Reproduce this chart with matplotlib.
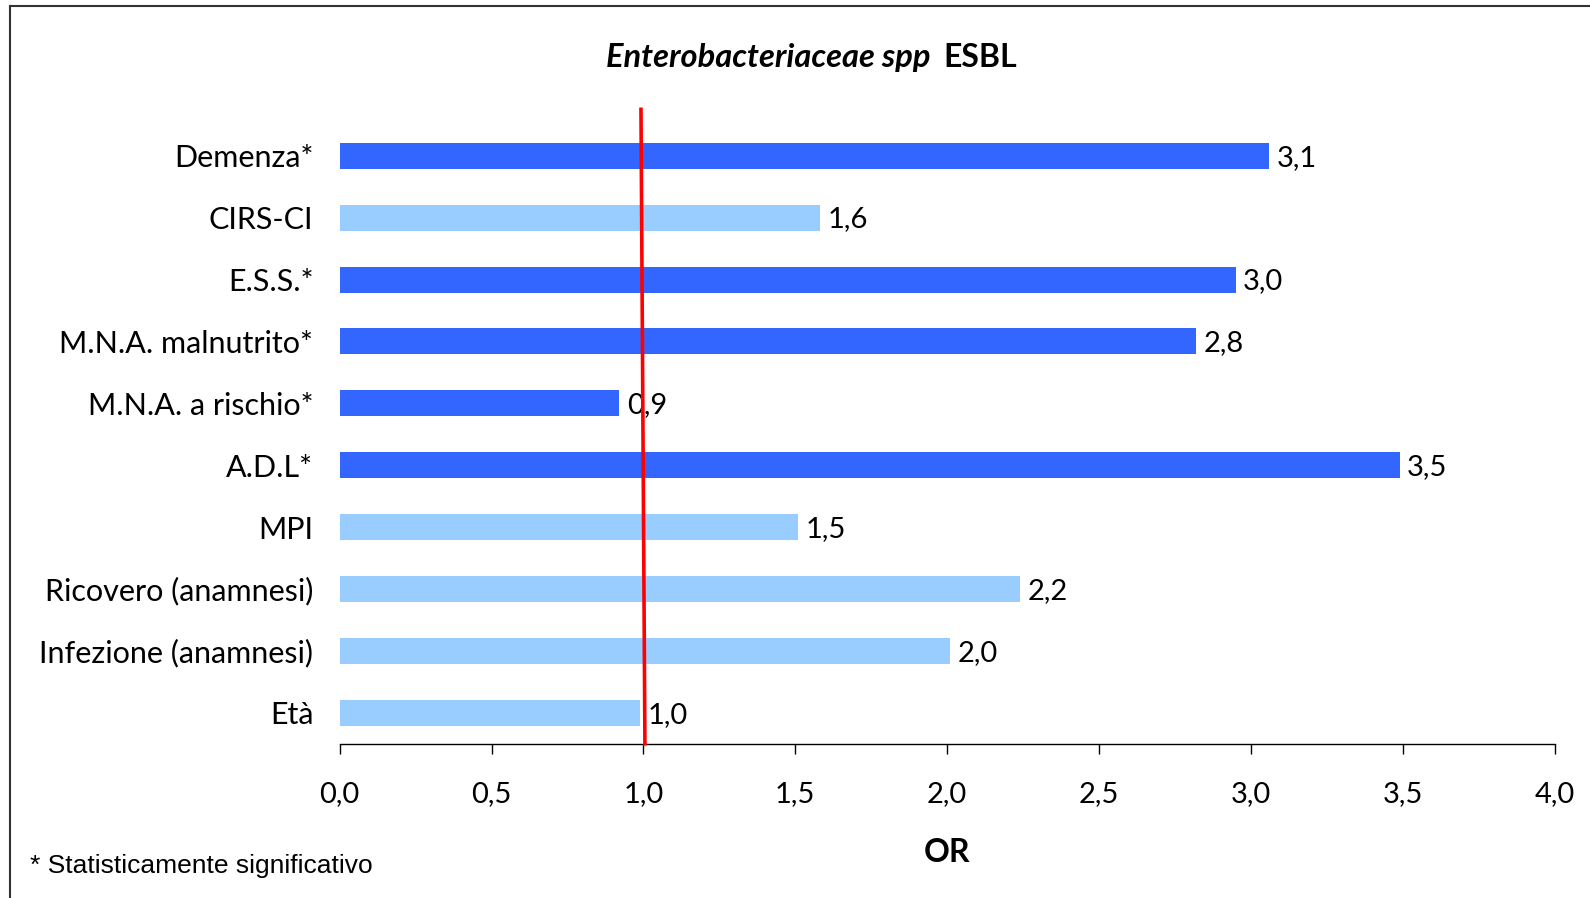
import matplotlib
matplotlib.use('Agg')
import matplotlib.pyplot as plt
from matplotlib.lines import Line2D

# data (bottom to top)
categories = ['Età', 'Infezione (anamnesi)', 'Ricovero (anamnesi)', 'MPI', 'A.D.L*',
              'M.N.A. a rischio*', 'M.N.A. malnutrito*', 'E.S.S.*', 'CIRS-CI', 'Demenza*']
odds_ratio = [0.99, 2.01, 2.24, 1.51, 3.49, 0.92, 2.82, 2.95, 1.58, 3.06]
significant = [False, False, False, False, True, True, True, True, False, True]
x_ticks = [0.0, 0.5, 1.0, 1.5, 2.0, 2.5, 3.0, 3.5, 4.0]

plt.rcParams['font.family'] = ['Lato', 'DejaVu Sans']

# layout measured on a 1568x885 view of the reference
W, H = 1568.0, 885.0

fig = plt.figure(figsize=(15.9, 8.98), dpi=100)
ax = fig.add_axes([335/W, 1 - 733/H, (1533 - 335)/W, (733 - 123)/H])

colors = ['#3366FF' if s else '#99CCFF' for s in significant]
y_pos = list(range(len(categories)))
ax.barh(y_pos, odds_ratio, height=0.42, color=colors)

for y, v in zip(y_pos, odds_ratio):
    ax.text(v + 0.025, y - 0.03, ('%.1f' % v).replace('.', ','), va='center', ha='left', fontsize=21)

# reference line at OR = 1
ax.plot([0.992, 1.005], [9.75, -0.5], color='#FF0000', lw=2.6, clip_on=False, zorder=5)

ax.set_xlim(0, 4)
ax.set_ylim(-0.5, 9.5)
ax.set_xticks(x_ticks)
ax.set_xticklabels([('%.1f' % t).replace('.', ',') for t in x_ticks], fontsize=21)
ax.set_yticks(y_pos)
ax.set_yticklabels(categories, fontsize=22)
ax.tick_params(axis='x', direction='out', length=7, width=1, pad=20)
ax.tick_params(axis='y', length=0, pad=19)
for s in ['top', 'right', 'left']:
    ax.spines[s].set_visible(False)
ax.spines['bottom'].set_linewidth(1)

ax.set_xlabel('OR', fontsize=23, fontweight='bold', labelpad=22)

fig.text(918/W, 1 - 57/H, 'Enterobacteriaceae spp', ha='right', va='center',
         fontsize=23.5, fontweight='bold', fontstyle='italic')
fig.text(930/W, 1 - 57/H, 'ESBL', ha='left', va='center', fontsize=23, fontweight='bold')
fig.text(30/W, 1 - 853/H, '* Statisticamente significativo', ha='left', va='center',
         fontsize=19, family='Liberation Sans')

# frame (top and left edges visible)
fig.add_artist(Line2D([10/W, 1], [1 - 6/H, 1 - 6/H], color='#333333', lw=1.5))
fig.add_artist(Line2D([10/W, 10/W], [0, 1 - 6/H], color='#333333', lw=1.5))

plt.savefig('out.png')
